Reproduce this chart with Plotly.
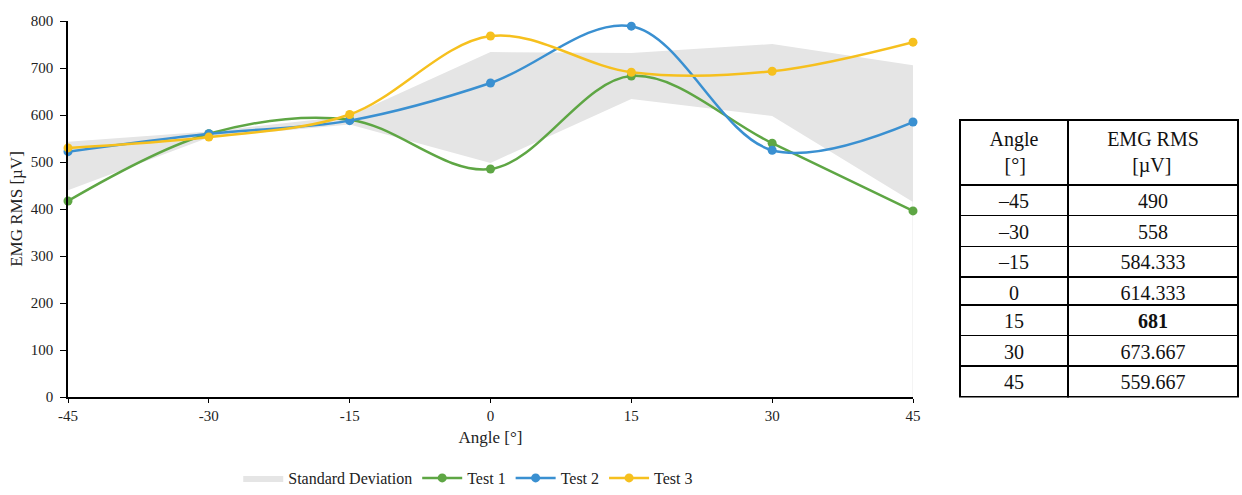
import plotly.graph_objects as go

angles = [-45, -30, -15, 0, 15, 30, 45]
test1 = [417, 560, 590, 485, 683, 540, 396]
test2 = [522, 560, 588, 668, 789, 525, 585]
test3 = [530, 553, 601, 768, 691, 693, 755]
sd_upper = [543, 565, 598, 734, 732, 751, 706]
sd_lower = [440, 552, 580, 498, 634, 598, 415]

table_angles = ["\u201345", "\u201330", "\u201315", "0", "15", "30", "45"]
table_rms = ["490", "558", "584.333", "614.333", "681", "673.667", "559.667"]
table_bold_row = 4  # the highlighted (bold) row

W, H = 1242, 495
FONT = "Liberation Serif"

fig = go.Figure()

# standard deviation band
fig.add_trace(go.Scatter(x=angles, y=sd_lower, mode="lines", line=dict(width=0, color="#e5e5e5"),
                         showlegend=False, hoverinfo="skip"))
fig.add_trace(go.Scatter(x=angles, y=sd_upper, mode="lines", line=dict(width=0, color="#e5e5e5"),
                         fill="tonexty", fillcolor="#e5e5e5", name="Standard Deviation"))
# faint right edge of band
fig.add_trace(go.Scatter(x=[angles[-1], angles[-1]], y=[0, sd_lower[-1]], mode="lines",
                         line=dict(width=1, color="#e8e8e8"), showlegend=False, hoverinfo="skip"))

colors = {"Test 1": "#5ea644", "Test 2": "#3a90d1", "Test 3": "#f6c01e"}
for name, vals in [("Test 1", test1), ("Test 2", test2), ("Test 3", test3)]:
    fig.add_trace(go.Scatter(x=angles, y=vals, name=name, mode="lines+markers",
                             line=dict(color=colors[name], width=2.5, shape="spline", smoothing=1),
                             marker=dict(color=colors[name], size=9), cliponaxis=False))

# ---- table (split in three blocks so one row can be bold) ----
TX0, TX1 = 960, 1238
TTOP = 120
HEAD_H = 62
ROW_H = 30.7
LINE = dict(color="black", width=1.5)
WHITE = dict(color="white")

def pad(s, n):
    return "\u00a0" * n + s

segments = [(0, table_bold_row, True), (table_bold_row, table_bold_row + 1, False),
            (table_bold_row + 1, len(table_angles), False)]
y_cursor = TTOP
for i0, i1, with_header in segments:
    h = (HEAD_H if with_header else 0) + ROW_H * (i1 - i0)
    top, bot = y_cursor, y_cursor + h
    y_cursor = bot
    bold = (i0 == table_bold_row)
    wts = ["normal", "bold" if bold else "normal"]
    if with_header:
        header = dict(values=["Angle<br>" + pad("[°]", 3), "EMG RMS<br>" + pad("[µV]", 5)],
                      height=HEAD_H, line=LINE, fill=WHITE,
                      font=dict(family=FONT, size=20, color="#111"), align="center")
        body = [table_angles[i0:i1], table_rms[i0:i1]]
    else:
        # first row of the block acts as the block's header row
        header = dict(values=[table_angles[i0], table_rms[i0]], height=ROW_H, line=LINE, fill=WHITE,
                      font=dict(family=FONT, size=20, color="#111", weight=wts), align="center")
        body = [table_angles[i0 + 1:i1], table_rms[i0 + 1:i1]]
    fig.add_trace(go.Table(
        domain=dict(x=[TX0 / W, TX1 / W], y=[(H - bot - 1) / H, (H - top) / H]),
        columnwidth=[108, 170],
        header=header,
        cells=dict(values=body, height=ROW_H, line=LINE, fill=WHITE,
                   font=dict(family=FONT, size=20, color="#111", weight=wts),
                   align="center"),
    ))

fig.update_layout(
    width=W, height=H,
    margin=dict(l=0, r=0, t=0, b=0),
    paper_bgcolor="white", plot_bgcolor="white",
    font=dict(family=FONT, size=15, color="#222"),
    showlegend=True,
    legend=dict(orientation="h", traceorder="normal", x=0.377, xanchor="center", y=0.0, yanchor="bottom",
                font=dict(family=FONT, size=16, color="#222"), itemwidth=40,
                bgcolor="rgba(0,0,0,0)"),
    xaxis=dict(domain=[68 / W, 913 / W], range=[-45, 45], tickmode="array",
               tickvals=angles, ticktext=[str(a) for a in angles],
               showgrid=False, zeroline=False, showline=True, linecolor="black", linewidth=1.5,
               ticks="outside", ticklen=4, tickcolor="black", automargin=False,
               tickfont=dict(family=FONT, size=15, color="#222"),
               title=dict(text="Angle [°]", font=dict(family=FONT, size=17), standoff=8)),
    yaxis=dict(domain=[(H - 397) / H, (H - 21) / H], range=[0, 800], dtick=100,
               showgrid=False, zeroline=False, showline=True, linecolor="black", linewidth=1.5,
               ticks="outside", ticklen=6, tickcolor="black", automargin=False, ticklabelstandoff=4,
               tickfont=dict(family=FONT, size=15, color="#222"),
               title=dict(text="EMG RMS [µV]", font=dict(family=FONT, size=17), standoff=4)),
)

fig.write_html("out.html")
